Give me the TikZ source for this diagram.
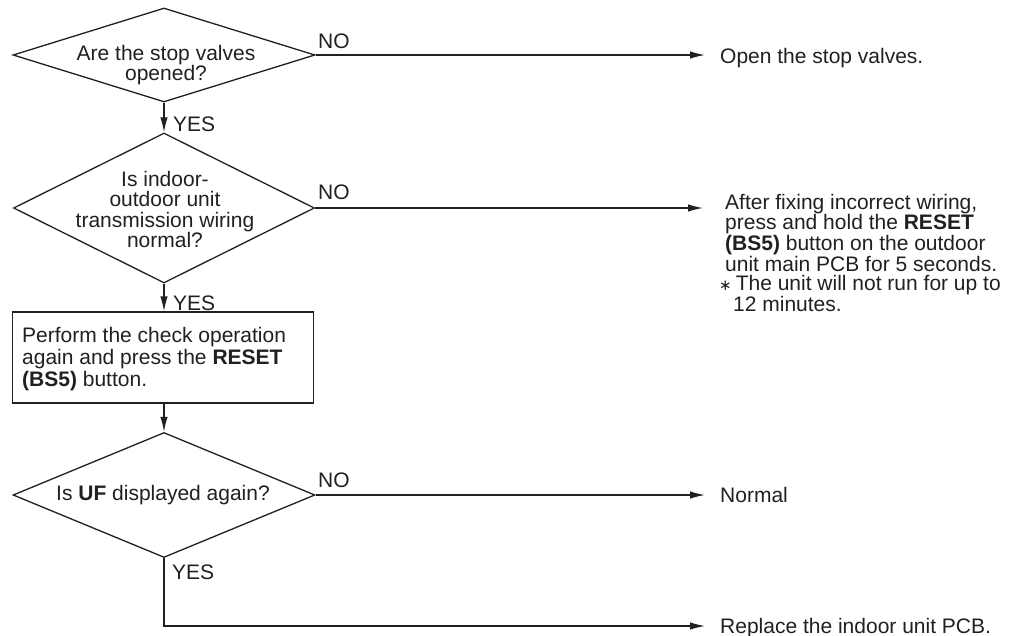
\documentclass[tikz,border=0pt]{standalone}
\usepackage{fontspec}
\setmainfont{Liberation Sans}
\newfontfamily\symfont{DejaVu Sans}
\usetikzlibrary{shapes.geometric,arrows.meta}
\definecolor{ink}{RGB}{35,31,32}
\begin{document}
\begin{tikzpicture}[x=1pt,y=-1pt,
  every node/.style={font=\fontsize{21}{20.5}\selectfont, text=ink, inner sep=0pt},
  dia/.style={diamond, draw=ink, line width=1.3pt, inner sep=0pt},
  procbox/.style={draw=ink, line width=1.3pt, inner sep=0pt},
  flow/.style={draw=ink, line width=1.3pt, -{Latex[length=15pt,width=7.5pt]}},
  lbl/.style={anchor=base west},
  res/.style={anchor=base west}
]
\useasboundingbox (0,0) rectangle (1014,636);

% decision and process shapes
\node[dia, minimum width=302pt, minimum height=94pt] (d1) at (164,55) {};
\node[dia, minimum width=301pt, minimum height=150pt] (d2) at (164,208) {};
\node[procbox, minimum width=301pt, minimum height=91pt] (b1) at (163,357.5) {};
\node[dia, minimum width=302pt, minimum height=125pt] (d3) at (164,495) {};

% texts in shapes
\node[anchor=north, align=center, font=\fontsize{21}{18}\selectfont] (q1) at (166,45) {Are the stop valves\\opened?};
\node[anchor=north, align=center] (q2) at (165,171) {Is indoor-\\outdoor unit\\transmission wiring\\normal?};
\node[anchor=north west, align=left, font=\fontsize{21}{22}\selectfont] (p1) at (22,327) {Perform the check operation\\again and press the \textbf{RESET}\\\textbf{(BS5)} button.};
\node[anchor=base] (q3) at (163,500) {Is \textbf{UF} displayed again?};

% results
\node[res] (r1) at (720,64) {Open the stop valves.};
\node[anchor=north west, align=left, font=\fontsize{21}{19.5}\selectfont] (r2) at (725,194) {After fixing incorrect wiring,\\press and hold the \textbf{RESET}\\\textbf{(BS5)} button on the outdoor\\unit main PCB for 5 seconds.\\\hspace*{-6pt}{\symfont\fontsize{15}{15}\selectfont ∗}\hspace{4pt}The unit will not run for up to\\\hspace*{8pt}12 minutes.};
\node[res] (r3) at (720,502) {Normal};
\node[res] (r4) at (720,633) {Replace the indoor unit PCB.};

% labels
\node[lbl] (n1) at (318,49) {NO};
\node[lbl] (y1) at (173,132) {YES};
\node[lbl] (n2) at (318,200) {NO};
\node[lbl] (y2) at (173,310) {YES};
\node[lbl] (n3) at (318,487) {NO};
\node[lbl] (y3) at (172,579) {YES};

% connectors
\draw[flow] (d1.south) -- (d2.north);
\draw[flow] (d2.south) -- (b1.north -| d2.south);
\draw[flow] (b1.south -| d3.north) -- (d3.north);
\draw[flow, shorten >=15pt] (d1.east) -- (d1.east -| r1.west);
\draw[flow, shorten >=22pt] (d2.east) -- (d2.east -| r2.west);
\draw[flow, shorten >=15pt] (d3.east) -- (d3.east -| r3.west);
\coordinate (c1) at (d3.south |- 626,626);
\draw[flow, shorten >=15pt] (d3.south) -- (c1) -- (c1 -| r4.west);
\end{tikzpicture}
\end{document}
